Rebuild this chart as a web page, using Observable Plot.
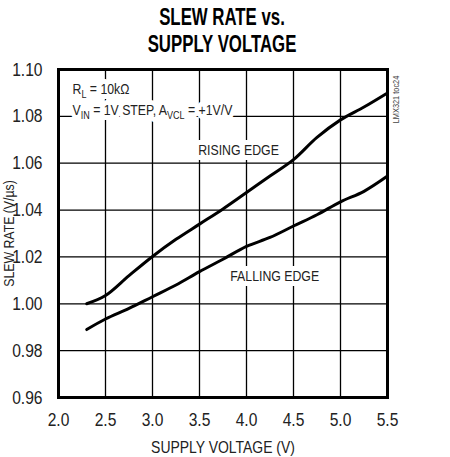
<!DOCTYPE html>
<html>
<head>
<meta charset="utf-8">
<script src="https://cdn.jsdelivr.net/npm/d3@7"></script>
<script src="https://cdn.jsdelivr.net/npm/@observablehq/plot@0.6"></script>
<style>
  body { margin: 0; background: #fff; width: 450px; height: 457px; overflow: hidden; }
  #title { width: 444px; height: 60px; box-sizing: border-box; padding-top: 4px; text-align: center;
           font-family: "Liberation Sans", Arial, sans-serif;
           font-weight: bold; font-size: 23px; line-height: 27px; color: #000;
           transform: scaleX(0.73); transform-origin: 222px 0; }
  #chart svg { display: block; }
</style>
</head>
<body>
<div id="title"></div>
<div id="chart"></div>
<script>
const titleLines = ["SLEW RATE vs.", "SUPPLY VOLTAGE"];
const xLabel = "SUPPLY VOLTAGE (V)";
const yLabel = "SLEW RATE (V/µs)";
const figId = "LMX321 toc24";

const xTicks = [2.0, 2.5, 3.0, 3.5, 4.0, 4.5, 5.0, 5.5];
const yTicks = [0.96, 0.98, 1.00, 1.02, 1.04, 1.06, 1.08, 1.10];

const supplyV = [2.3, 2.5, 2.75, 3.0, 3.25, 3.5, 3.75, 4.0, 4.25, 4.5, 4.75, 5.0, 5.25, 5.5];
const risingSR = [1.000, 1.0035, 1.012, 1.0202, 1.0275, 1.034, 1.0405, 1.0475, 1.0545, 1.0615, 1.071, 1.0785, 1.084, 1.090];
const fallingSR = [0.989, 0.9935, 0.998, 1.003, 1.008, 1.0137, 1.019, 1.0245, 1.0283, 1.0332, 1.038, 1.0435, 1.048, 1.0545];

const condLines = ["R_{L} = 10kΩ", "V_{IN} = 1V STEP, A_{VCL} = +1V/V"];
const curveLabels = [
  {x: 3.915, y: 1.0636, text: "RISING EDGE"},
  {x: 4.30, y: 1.0098, text: "FALLING EDGE"}
];

const FONT = '"Liberation Sans", Arial, sans-serif';
const NARROW = 0.82;

document.getElementById("title").innerHTML = titleLines.map(t => `<div>${t}</div>`).join("");

const rising = supplyV.map((x, i) => ({x, y: risingSR[i]}));
const falling = supplyV.map((x, i) => ({x, y: fallingSR[i]}));

const xMin = xTicks[0], xMax = xTicks[xTicks.length - 1];
const yMin = yTicks[0], yMax = yTicks[yTicks.length - 1];

const haloStyle = {fill: "white", stroke: "white", strokeWidth: 10, strokeLinejoin: "round"};
const inkStyle = {fill: "#222"};

function condMarks(style) {
  return condLines.map((s, i) => Plot.text([s], {frameAnchor: "top-left", textAnchor: "start", lineAnchor: "bottom",
    dx: 14, dy: 24 + 21 * i, fontSize: 15, className: "sub", ...style}));
}
function labelMarks(style) {
  return Plot.text(curveLabels, {x: "x", y: "y", text: "text", textAnchor: "middle", lineAnchor: "bottom",
    fontSize: 15, ...style});
}

const svg = Plot.plot({
  width: 450,
  height: 397,
  marginTop: 9,
  marginBottom: 60,
  marginLeft: 58,
  marginRight: 63,
  style: {fontFamily: FONT, background: "white", overflow: "visible"},
  x: {domain: [xMin, xMax]},
  y: {domain: [yMin, yMax]},
  marks: [
    Plot.axisX(xTicks, {tickSize: 0, tickPadding: 15, tickFormat: d3.format(".1f"), fontSize: 19, fill: "#222", label: null}),
    Plot.axisY(yTicks, {tickSize: 0, tickPadding: 16, tickFormat: d3.format(".2f"), fontSize: 19, fill: "#222", label: null}),
    Plot.text([xLabel], {frameAnchor: "bottom", lineAnchor: "bottom", dy: 55, fontSize: 17, fill: "#222"}),
    Plot.text([yLabel], {frameAnchor: "left", lineAnchor: "middle", textAnchor: "middle", dx: -49, rotate: -90, fontSize: 15, fill: "#222"}),
    Plot.text([figId], {frameAnchor: "top-right", lineAnchor: "middle", textAnchor: "middle", dx: 9, dy: 30, rotate: -90, fontSize: 9, fill: "#444"}),
    Plot.ruleX(xTicks, {stroke: "black", strokeWidth: 1.3}),
    Plot.ruleY(yTicks, {stroke: "black", strokeWidth: 1.3}),
    ...condMarks(haloStyle),
    labelMarks(haloStyle),
    ...condMarks(inkStyle),
    labelMarks(inkStyle),
    Plot.line(rising, {x: "x", y: "y", stroke: "black", strokeWidth: 3, curve: "catmull-rom"}),
    Plot.line(falling, {x: "x", y: "y", stroke: "black", strokeWidth: 3, curve: "catmull-rom"}),
    Plot.frame({stroke: "black", strokeWidth: 3})
  ]
});

// subscripts
d3.select(svg).selectAll("g.sub text").each(function() {
  const el = d3.select(this);
  const s = el.text();
  el.text(null);
  const parts = s.split(/(_\{[^}]*\})/);
  let shifted = false;
  parts.forEach(p => {
    if (!p) return;
    if (p.startsWith("_{")) {
      el.append("tspan").attr("dy", shifted ? 0 : 4).attr("font-size", 11).text(p.slice(2, -1));
      shifted = true;
    } else {
      el.append("tspan").attr("dy", shifted ? -4 : 0).text(p);
      shifted = false;
    }
  });
});

document.getElementById("chart").appendChild(svg);

// narrow the glyphs (Helvetica-Narrow look)
svg.querySelectorAll("text").forEach(t => {
  if (t.querySelector("tspan")) {
    const wrap = document.createElementNS("http://www.w3.org/2000/svg", "g");
    t.parentNode.insertBefore(wrap, t);
    wrap.appendChild(t);
    const r = t.getBoundingClientRect();
    const p = svg.createSVGPoint();
    p.x = r.left; p.y = r.top;
    const lp = p.matrixTransform(wrap.getScreenCTM().inverse());
    wrap.setAttribute("transform", `translate(${lp.x},0) scale(${NARROW},1) translate(${-lp.x},0)`);
  } else {
    const len = t.getComputedTextLength();
    if (len > 0) {
      t.setAttribute("textLength", (len * NARROW).toFixed(2));
      t.setAttribute("lengthAdjust", "spacingAndGlyphs");
    }
  }
});
</script>
</body>
</html>
